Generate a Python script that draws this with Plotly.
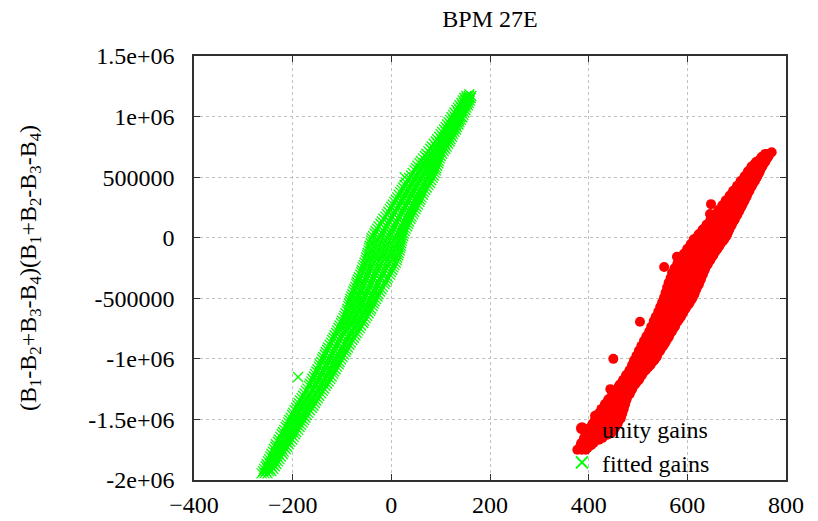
import plotly.graph_objects as go

# Scatter readings for BPM 27E: each row is (y value, [x values at that y])
UNITY_ROWS = [
    (-1750000, [377, 386, 394]), (-1733000, [382, 390, 398]), (-1712000, [384, 392, 401, 405]),
    (-1694000, [385, 396, 403, 410]), (-1668000, [390, 398, 412, 421]), (-1652000, [391, 406, 417, 428]),
    (-1627000, [395, 408, 425, 438]), (-1611000, [396, 415, 429, 446]), (-1588000, [401, 414, 436, 450]),
    (-1572000, [402, 421, 435, 453]), (-1549000, [407, 422, 442, 455]), (-1533000, [408, 428, 441, 459]),
    (-1508000, [413, 428, 448, 461]), (-1492000, [414, 434, 449, 465]), (-1470000, [413, 433, 454, 466]),
    (-1452000, [420, 438, 452, 468]), (-1428000, [426, 439, 458, 469]), (-1413000, [426, 444, 457, 471]),
    (-1388000, [433, 444, 461, 472]), (-1372000, [433, 450, 461, 474]), (-1349000, [439, 450, 466, 475]),
    (-1333000, [440, 456, 465, 477]), (-1308000, [447, 456, 470, 478]), (-1292000, [448, 462, 471, 483]),
    (-1268000, [455, 463, 477, 485]), (-1250000, [444, 459, 469, 488]), (-1227000, [461, 470, 483, 490]),
    (-1212000, [463, 476, 483, 494]), (-1188000, [469, 477, 490, 498]), (-1172000, [470, 484, 491, 502]),
    (-1148000, [476, 484, 497, 505]), (-1133000, [476, 490, 497, 508]), (-1107000, [482, 490, 504, 512]),
    (-1092000, [483, 497, 505, 516]), (-1068000, [488, 497, 512, 521]), (-1052000, [488, 503, 512, 525]),
    (-1027000, [493, 503, 519, 529]), (-1012000, [492, 509, 520, 533]), (-1000000, [450]),
    (-988000, [498, 508, 526, 537]), (-972000, [497, 514, 525, 539]), (-948000, [503, 513, 531, 541]),
    (-932000, [502, 519, 530, 545]), (-907000, [508, 518, 536, 548]), (-893000, [507, 525, 537, 551]),
    (-868000, [513, 524, 543, 555]), (-852000, [512, 530, 542, 557]), (-827000, [518, 529, 548, 561]),
    (-813000, [517, 535, 547, 563]), (-787000, [523, 534, 553, 566]), (-772000, [523, 541, 552, 569]),
    (-747000, [528, 540, 559, 572]), (-733000, [527, 546, 558, 575]), (-708000, [532, 545, 564, 577]),
    (-693000, [504]), (-688000, [532, 551, 563, 581]), (-668000, [537, 550, 570, 584]),
    (-653000, [536, 556, 569, 587]), (-628000, [542, 555, 576, 590]), (-612000, [541, 561, 575, 592]),
    (-588000, [546, 560, 581, 596]), (-572000, [545, 566, 580, 598]), (-548000, [550, 565, 587, 603]),
    (-533000, [549, 571, 586, 605]), (-508000, [554, 569, 592, 609]), (-492000, [553, 576, 591, 611]),
    (-468000, [558, 574, 597, 614]), (-453000, [556, 579, 596, 615]), (-428000, [561, 577, 601, 618]),
    (-412000, [559, 583, 600, 619]), (-388000, [564, 581, 605, 623]), (-372000, [562, 587, 604, 624]),
    (-348000, [567, 584, 609, 627]), (-332000, [566, 591, 608, 628]), (-308000, [571, 588, 613, 631]),
    (-292000, [569, 595, 612, 632]), (-268000, [575, 592, 617, 635]), (-252000, [574, 599, 616, 636]),
    (-242000, [553]), (-228000, [580, 597, 622, 640]), (-212000, [580, 604, 621, 642]),
    (-188000, [587, 603, 628, 646]), (-172000, [587, 611, 627, 648]), (-157000, [579]),
    (-148000, [593, 609, 634, 652]), (-132000, [593, 618, 633, 654]), (-108000, [599, 616, 640, 658]),
    (-92000, [600, 625, 640, 661]), (-68000, [606, 622, 647, 665]), (-52000, [607, 631, 647, 667]),
    (-28000, [613, 629, 654, 672]), (-12000, [613, 638, 654, 675]), (12000, [621, 636, 662, 679]),
    (28000, [623, 646, 661, 681]), (52000, [630, 644, 668, 683]), (68000, [631, 654, 667, 685]),
    (92000, [638, 651, 674, 688]), (108000, [639, 660, 673, 690]), (132000, [646, 658, 680, 693]),
    (148000, [647, 667, 679, 696]), (172000, [654, 665, 686, 698]), (188000, [655, 674, 685, 701]),
    (195000, [646]), (212000, [662, 672, 692, 704]), (228000, [663, 681, 691, 706]),
    (252000, [670, 679, 698, 709]), (268000, [671, 688, 697, 711]), (277000, [648]),
    (292000, [678, 686, 704, 714]), (308000, [678, 695, 703, 716]), (332000, [685, 692, 710, 719]),
    (348000, [686, 701, 709, 721]), (372000, [692, 699, 715, 723]), (388000, [693, 708, 714, 726]),
    (412000, [700, 706, 721, 728]), (428000, [701, 715, 720, 731]), (452000, [708, 713, 727, 734]),
    (468000, [708, 722, 726, 737]), (492000, [715, 720, 734, 740]), (508000, [716, 729, 733, 742]),
    (532000, [722, 727, 739, 745]), (548000, [723, 735, 738, 747]), (572000, [730, 733, 745, 749]),
    (588000, [730, 741, 744, 752]), (612000, [737, 740, 751, 755]), (628000, [740, 748, 752, 758]),
    (652000, [748, 751, 761]), (668000, [751, 759, 764]), (692000, [758, 762, 767]),
    (705000, [771]),
]

FITTED_ROWS = [
    (-1945000, [-263, -257, -251]), (-1927000, [-260, -254, -248, -243]),
    (-1908000, [-258, -251, -246, -239]), (-1887000, [-255, -250, -243, -236]),
    (-1868000, [-253, -246, -240, -233]), (-1846000, [-250, -244, -236, -230]),
    (-1828000, [-248, -241, -234, -227]), (-1806000, [-245, -238, -231, -224]),
    (-1785000, [-243, -235, -228, -220]), (-1766000, [-240, -233, -224, -218]),
    (-1744000, [-238, -229, -222, -214]), (-1725000, [-235, -227, -218, -211]),
    (-1705000, [-234, -224, -216, -208]), (-1684000, [-230, -222, -212, -205]),
    (-1666000, [-228, -219, -210, -201]), (-1644000, [-225, -215, -207, -198]),
    (-1623000, [-222, -213, -203, -195]), (-1604000, [-220, -210, -201, -193]),
    (-1586000, [-217, -207, -198, -189]), (-1563000, [-214, -205, -194, -186]),
    (-1545000, [-212, -201, -192, -183]), (-1524000, [-209, -198, -189, -180]),
    (-1505000, [-207, -196, -186, -177]), (-1486000, [-204, -193, -183, -174]),
    (-1463000, [-201, -190, -180, -171]), (-1446000, [-199, -188, -176, -168]),
    (-1424000, [-196, -184, -174, -165]), (-1403000, [-193, -181, -170, -161]),
    (-1385000, [-190, -179, -168, -158]), (-1365000, [-188, -176, -164, -155]),
    (-1344000, [-185, -173, -162, -152]), (-1324000, [-182, -170, -158, -149]),
    (-1305000, [-179, -167, -155, -146]), (-1285000, [-176, -164, -152, -142]),
    (-1264000, [-173, -160, -149, -139]), (-1246000, [-170, -158, -146, -136]),
    (-1223000, [-167, -154, -142, -133]), (-1205000, [-165, -152, -140, -130]),
    (-1186000, [-162, -150, -137, -127]), (-1164000, [-160, -147, -134, -124]),
    (-1150000, [-189]), (-1145000, [-157, -144, -131, -121]),
    (-1124000, [-155, -141, -128, -118]), (-1105000, [-152, -139, -126, -116]),
    (-1086000, [-150, -136, -123, -113]), (-1064000, [-147, -133, -120, -110]),
    (-1045000, [-145, -131, -118, -107]), (-1026000, [-142, -128, -115, -105]),
    (-1003000, [-140, -126, -112, -102]), (-985000, [-138, -124, -110, -99]),
    (-964000, [-135, -120, -107, -96]), (-944000, [-133, -118, -104, -93]),
    (-925000, [-130, -116, -102, -91]), (-906000, [-128, -113, -99, -88]),
    (-883000, [-125, -110, -96, -85]), (-866000, [-122, -108, -93, -82]),
    (-844000, [-120, -105, -90, -79]), (-826000, [-117, -102, -88, -76]),
    (-805000, [-115, -100, -86, -73]), (-786000, [-112, -97, -83, -70]),
    (-765000, [-110, -95, -80, -67]), (-745000, [-107, -96, -85, -74, -64]),
    (-725000, [-105, -94, -82, -71, -61]), (-704000, [-102, -91, -79, -68, -57]),
    (-685000, [-100, -88, -77, -65, -55]), (-664000, [-97, -86, -74, -62, -52]),
    (-645000, [-95, -83, -71, -59, -49]), (-624000, [-93, -81, -69, -57, -46]),
    (-604000, [-90, -78, -66, -54, -43]), (-586000, [-89, -76, -64, -52, -41]),
    (-565000, [-87, -75, -62, -49, -38]), (-543000, [-86, -73, -60, -47, -36]),
    (-525000, [-84, -71, -58, -45, -34]), (-506000, [-83, -70, -56, -43, -31]),
    (-485000, [-81, -67, -54, -40, -28]), (-466000, [-79, -66, -52, -38, -26]),
    (-444000, [-77, -63, -49, -35, -23]), (-425000, [-75, -61, -47, -33, -20]),
    (-406000, [-73, -59, -45, -31, -17]), (-383000, [-71, -57, -42, -28, -14]),
    (-365000, [-70, -55, -40, -26, -12]), (-345000, [-68, -53, -38, -23, -9]),
    (-326000, [-66, -51, -36, -21, -7]), (-305000, [-63, -48, -33, -18, -3]),
    (-284000, [-61, -46, -31, -16, -1]), (-266000, [-60, -44, -29, -13, 2]),
    (-245000, [-58, -42, -27, -11, 4]), (-226000, [-56, -40, -25, -9, 6]),
    (-206000, [-54, -38, -22, -6, 9]), (-185000, [-52, -37, -21, -5, 11]),
    (-164000, [-51, -35, -19, -3, 12]), (-145000, [-49, -33, -17, -1, 14]),
    (-126000, [-48, -32, -16, 1, 15]), (-105000, [-46, -30, -14, 3, 17]),
    (-84000, [-45, -29, -12, 5, 18]), (-66000, [-44, -27, -11, 6, 19]),
    (-45000, [-42, -26, -9, 8, 20]), (-24000, [-41, -25, -8, 9, 21]),
    (-5000, [-40, -24, -7, 10, 22]), (14000, [-37, -21, -4, 12, 24]),
    (35000, [-34, -18, -1, 14, 25]), (56000, [-32, -16, 1, 17, 27]),
    (75000, [-29, -13, 3, 19, 29]), (94000, [-26, -10, 6, 21, 32]),
    (115000, [-22, -7, 9, 24, 34]), (134000, [-19, -4, 11, 26, 36]),
    (156000, [-16, -1, 14, 29, 39]), (174000, [-12, 2, 17, 31, 41]),
    (195000, [-9, 5, 20, 34, 44]), (214000, [-6, 8, 22, 36, 46]),
    (236000, [-3, 11, 25, 39, 49]), (255000, [0, 14, 28, 42, 51]),
    (273000, [3, 17, 30, 44, 54]), (296000, [6, 20, 33, 47, 57]),
    (314000, [9, 22, 36, 49, 59]), (333000, [12, 25, 38, 52, 61]),
    (355000, [15, 28, 41, 54, 64]), (376000, [18, 31, 44, 57, 66]),
    (395000, [21, 34, 46, 59, 69]), (414000, [24, 37, 49, 62, 72]),
    (436000, [27, 40, 52, 65, 75]), (454000, [30, 43, 55, 68, 78]),
    (475000, [33, 46, 58, 71, 81]), (494000, [36, 49, 61, 74, 84]),
    (500000, [27]), (513000, [40, 52, 64, 76, 86]),
    (535000, [43, 55, 67, 79, 88]), (556000, [47, 58, 70, 81, 90]),
    (574000, [50, 61, 72, 83, 91]), (594000, [53, 64, 75, 85, 93]),
    (615000, [57, 67, 78, 88, 95]), (633000, [60, 70, 80, 89, 96]),
    (655000, [64, 74, 83, 92, 98]), (675000, [68, 77, 86, 94, 100]),
    (693000, [71, 80, 89, 97, 103]), (715000, [75, 84, 92, 100, 106]),
    (734000, [79, 87, 95, 103, 109]), (753000, [82, 90, 98, 106, 112]),
    (775000, [86, 94, 102, 109, 115]), (794000, [90, 97, 105, 112, 118]),
    (813000, [93, 101, 108, 114, 120]), (834000, [97, 104, 111, 117, 123]),
    (855000, [100, 107, 114, 120, 125]), (874000, [103, 110, 117, 123, 128]),
    (893000, [107, 114, 120, 126, 131]), (914000, [110, 117, 123, 128, 133]),
    (935000, [113, 120, 126, 131, 136]), (954000, [116, 123, 129, 134, 138]),
    (973000, [119, 126, 132, 137, 141]), (995000, [122, 129, 135, 140, 144]),
    (1014000, [125, 132, 138, 146]), (1033000, [128, 135, 141, 148]),
    (1054000, [132, 138, 144, 150]), (1074000, [135, 141, 147, 152]),
    (1093000, [138, 144, 150, 155]), (1113000, [142, 147, 153, 157]),
    (1133000, [145, 150, 155, 159]), (1153000, [148, 153, 158, 161]),
    (1170000, [152, 157, 162]), (1185000, [158]),
]

X_TICKS = [-400, -200, 0, 200, 400, 600, 800]
Y_TICKS = [-2000000, -1500000, -1000000, -500000, 0, 500000, 1000000, 1500000]
Y_TICK_TEXT = ["-2e+06", "-1.5e+06", "-1e+06", "-500000", "0", "500000", "1e+06", "1.5e+06"]


def expand(rows):
    xs, ys = [], []
    for y, row in rows:
        for x in row:
            xs.append(x)
            ys.append(y)
    return xs, ys


ux, uy = expand(UNITY_ROWS)
fx, fy = expand(FITTED_ROWS)

FONT = "Liberation Serif"

fig = go.Figure()
fig.add_trace(go.Scatter(
    x=ux, y=uy, mode="markers", name="unity gains",
    marker=dict(symbol="circle", size=10, color="#ff0000", line=dict(width=0)),
))
fig.add_trace(go.Scatter(
    x=fx, y=fy, mode="markers", name="fitted gains",
    marker=dict(symbol="x-thin-open", size=10, color="#00ff00",
                line=dict(width=1.3, color="#00ff00")),
))

axis_common = dict(
    showline=True, linecolor="#303030", linewidth=1.5, mirror="ticks",
    ticks="inside", ticklen=6, tickwidth=1, tickcolor="#303030",
    showgrid=True, gridcolor="#c0c0c0", griddash="dot", gridwidth=1,
    zeroline=False, automargin=False,
    tickfont=dict(family=FONT, size=24, color="black"),
)

fig.update_xaxes(range=[-400, 800], tickvals=X_TICKS, ticklabelstandoff=2, **axis_common)
fig.update_yaxes(
    range=[-2000000, 1500000], tickvals=Y_TICKS, ticktext=Y_TICK_TEXT,
    ticklabelstandoff=13,
    title=dict(
        text="(B<sub>1</sub>-B<sub>2</sub>+B<sub>3</sub>-B<sub>4</sub>)"
             "(B<sub>1</sub>+B<sub>2</sub>-B<sub>3</sub>-B<sub>4</sub>)",
        font=dict(family=FONT, size=24, color="black"), standoff=45,
    ),
    **axis_common,
)

fig.update_layout(
    width=818, height=521,
    margin=dict(l=194, r=32, t=56, b=41),
    paper_bgcolor="white", plot_bgcolor="white",
    title=dict(text="BPM 27E", x=0.599, xanchor="center", y=0.965, yanchor="middle",
               font=dict(family=FONT, size=24, color="black")),
    showlegend=True,
    legend=dict(x=0.88, y=-0.012, xanchor="right", yanchor="bottom",
                bgcolor="rgba(0,0,0,0)", font=dict(family=FONT, size=24, color="black"),
                itemsizing="constant", tracegroupgap=0),
)

fig.write_html("out.html")
